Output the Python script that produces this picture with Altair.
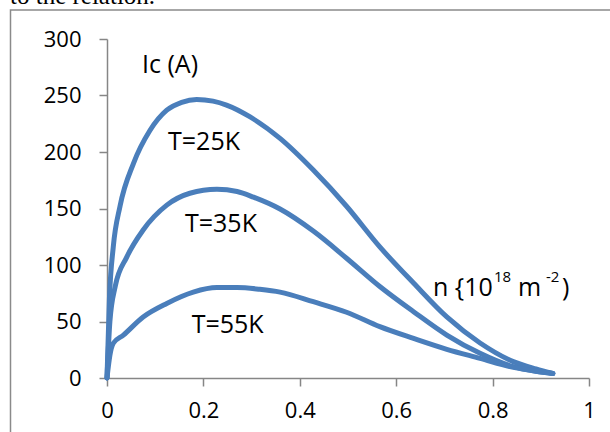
import altair as alt
import pandas as pd

# ---- data ----
n25 = [0, 0.005, 0.013, 0.027, 0.055, 0.089, 0.124, 0.155, 0.186, 0.22, 0.248, 0.297, 0.359, 0.428, 0.497, 0.566, 0.636, 0.705, 0.774, 0.843, 0.89, 0.925]
ic25 = [0, 70, 116, 152, 190, 219, 237, 244, 246.5, 245, 241.5, 231, 212, 184, 152, 116, 84, 54, 31, 14.5, 8, 4]

n35 = [0, 0.006, 0.017, 0.041, 0.075, 0.124, 0.172, 0.228, 0.27, 0.304, 0.359, 0.428, 0.497, 0.566, 0.636, 0.705, 0.774, 0.843, 0.89, 0.925]
ic35 = [0, 50, 81, 107, 131, 153, 163.5, 167, 165, 160, 149.5, 130, 106, 81, 58.7, 38, 21.8, 10, 6, 4]

n55 = [0, 0.006, 0.013, 0.034, 0.075, 0.124, 0.179, 0.228, 0.27, 0.317, 0.359, 0.428, 0.497, 0.566, 0.636, 0.705, 0.774, 0.843, 0.89, 0.925]
ic55 = [0, 20, 30.7, 38, 54, 66, 76, 80, 80, 78.5, 76, 67.5, 58.2, 45.4, 35, 25.4, 17.4, 9.4, 6, 4]

x_ticks = [0, 0.2, 0.4, 0.6, 0.8, 1]
y_ticks = [0, 50, 100, 150, 200, 250, 300]

# annotation texts (label, n, Ic, size)
ann_text = ["Ic (A)", "T=25K", "T=35K", "T=55K", "n {10", "18", "m", "-2", ")"]
ann_x = [0.0726, 0.1266, 0.1618, 0.1757, 0.6763, 0.8029, 0.8527, 0.9108, 0.9440]
ann_y = [270, 201.8, 129.5, 39.5, 72.6, 85.0, 72.6, 85.0, 72.6]
ann_size = [25, 25, 25, 25, 25, 15, 25, 15, 25]

FONT = "Open Sans"
BLUE = "#4A7EBB"
GREY = "#868686"

rows = []
for lab, xs, ys in [("25K", n25, ic25), ("35K", n35, ic35), ("55K", n55, ic55)]:
    for i, (a, b) in enumerate(zip(xs, ys)):
        rows.append({"T": lab, "n": a, "Ic": b, "o": i})
df = pd.DataFrame(rows)

ann = pd.DataFrame({"text": ann_text, "n": ann_x, "Ic": ann_y, "size": ann_size})

xscale = alt.Scale(domain=[0, 1], nice=False, zero=False)
yscale = alt.Scale(domain=[0, 300], nice=False)

lines = alt.Chart(df).mark_line(
    color=BLUE, strokeWidth=5, interpolate="monotone", strokeCap="round", strokeJoin="round"
).encode(
    x=alt.X("n:Q", scale=xscale, axis=alt.Axis(
        values=x_ticks, format=".1~f", title=None, grid=False, domainColor=GREY, tickColor=GREY,
        domainWidth=1.5, tickWidth=1.5, tickSize=8, labelFont=FONT, labelFontSize=22,
        labelColor="black", labelPadding=14, labelFlush=False)),
    y=alt.Y("Ic:Q", scale=yscale, axis=alt.Axis(
        values=y_ticks, title=None, grid=False, domainColor=GREY, tickColor=GREY,
        domainWidth=1.5, tickWidth=1.5, tickSize=8, labelFont=FONT, labelFontSize=22,
        labelColor="black", labelPadding=18)),
    detail="T:N",
    order="o:Q",
)

texts = alt.Chart(ann).mark_text(
    font=FONT, color="black", align="left", baseline="alphabetic"
).encode(
    x=alt.X("n:Q", scale=xscale),
    y=alt.Y("Ic:Q", scale=yscale),
    text="text:N",
    size=alt.Size("size:Q", scale=None, legend=None),
)

border = alt.Chart(pd.DataFrame({"a": [0]})).mark_rect(
    fill=None, stroke="#8a8a8a", strokeWidth=1.5
).encode(
    x=alt.value(-96.5), x2=alt.value(700), y=alt.value(-29), y2=alt.value(500)
)

top_text = alt.Chart(pd.DataFrame({"t": ["to the relation."]})).mark_text(
    font="Liberation Serif", fontSize=25, color="black", align="left", baseline="alphabetic"
).encode(
    x=alt.value(-97), y=alt.value(-35), text="t:N"
)

chart = alt.layer(border, top_text, lines, texts).properties(
    width=482, height=339,
    autosize=alt.AutoSizeParams(type="none"),
    padding={"left": 107, "top": 39, "right": 21, "bottom": 54},
    background="white",
).configure_view(stroke=None)

chart.save("out.html", embed_options={"renderer": "svg", "actions": False})
